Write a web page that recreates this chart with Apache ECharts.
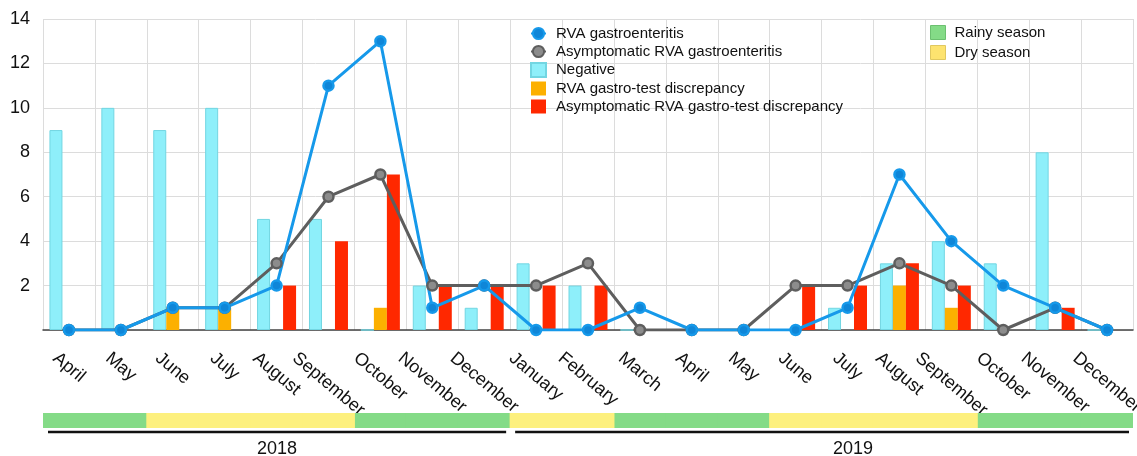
<!DOCTYPE html>
<html>
<head>
<meta charset="utf-8">
<script src="https://cdn.jsdelivr.net/npm/echarts@6/dist/echarts.min.js"></script>
<style>
  html, body { margin: 0; padding: 0; background: #fff; }
  #main { width: 1137px; height: 456px; }
</style>
</head>
<body>
<div id="main"></div>
<script>
// months: April 2018 .. December 2019
const months = ['April', 'May', 'June', 'July', 'August', 'September', 'October', 'November', 'December',
    'January', 'February', 'March', 'April', 'May', 'June', 'July', 'August', 'September', 'October', 'November', 'December'];

const rvaGastro = [0, 0, 1, 1, 2, 11, 13, 1, 2, 0, 0, 1, 0, 0, 0, 1, 7, 4, 2, 1, 0];
const asymGastro = [0, 0, 1, 1, 3, 6, 7, 2, 2, 2, 3, 0, 0, 0, 2, 2, 3, 2, 0, 1, 0];
const negative = [9, 10, 9, 10, 5, 5, 0, 2, 1, 3, 2, 0, 0, 0, 0, 1, 3, 4, 3, 8, 0];
const rvaDiscrepancy = [0, 0, 1, 1, 0, 0, 1, 0, 0, 0, 0, 0, 0, 0, 0, 0, 2, 1, 0, 0, 0];
const asymDiscrepancy = [0, 0, 0, 0, 2, 4, 7, 2, 2, 2, 2, 0, 0, 0, 2, 2, 3, 2, 0, 1, 0];

const seasons = ['rainy', 'rainy', 'dry', 'dry', 'dry', 'dry', 'rainy', 'rainy', 'rainy',
    'dry', 'dry', 'rainy', 'rainy', 'rainy', 'dry', 'dry', 'dry', 'dry', 'rainy', 'rainy', 'rainy'];

const years = ['2018', '2019'];
const yearFirst = [0, 9];
const yearLast = [8, 20];

const yMax = 14;
const yStep = 2;

const font = 'Liberation Sans';
const colors = {
    blue: '#1699ea',
    gray: '#5e5e5e',
    cyan: '#8eeffa',
    orange: '#fcb000',
    red: '#ff2800',
    rainy: '#84db87',
    dry: '#fdf07e'
};
// the 2019 caption sits a bit right of its bracket centre in the original
const yearTextShift = [0, 31];

// month labels: rotated, centred on the band, but with their tops lined up.
// shift each label down by half of its extra height, done through rich padding.
const labelSize = 18;
const labelAngle = 40;
const labelMargin = 20;
const labelTopGap = 19; // top of rotated box below the axis line
const measure = document.createElement('canvas').getContext('2d');
measure.font = labelSize + 'px "' + font + '"';
const rad = labelAngle * Math.PI / 180;
const labelRich = {};
months.forEach((m, i) => {
    const w = measure.measureText(m).width;
    const d = labelTopGap + (w * Math.sin(rad) + labelSize * Math.cos(rad)) / 2 - labelMargin;
    labelRich['m' + i] = {
        fontSize: labelSize,
        color: '#111',
        padding: [2 * d * Math.cos(rad), 0, 0, 2 * d * Math.sin(rad)]
    };
});

const chart = echarts.init(document.getElementById('main'));

const option = {
    animation: false,
    textStyle: { fontFamily: font, color: '#111' },
    grid: [
        { left: 43, right: 4, top: 19, height: 311, outerBoundsMode: 'none' },
        { left: 43, right: 4, top: 413, height: 15, outerBoundsMode: 'none' }
    ],
    legend: [
        {
            orient: 'vertical',
            left: 525,
            top: 21,
            itemWidth: 15,
            itemHeight: 14,
            itemGap: 3,
            textStyle: { fontSize: 15, color: '#111', padding: [0, 0, 0, 5] },
            data: [
                { name: 'RVA gastroenteritis' },
                { name: 'Asymptomatic RVA gastroenteritis' },
                { name: 'Negative', icon: 'rect' },
                { name: 'RVA gastro-test discrepancy', icon: 'rect' },
                { name: 'Asymptomatic RVA gastro-test discrepancy', icon: 'rect' }
            ]
        },
        {
            orient: 'vertical',
            left: 925,
            top: 20,
            itemWidth: 15,
            itemHeight: 14,
            itemGap: 5,
            textStyle: { fontSize: 15, color: '#111', padding: [0, 0, 0, 4] },
            data: [
                { name: 'Rainy season', icon: 'rect', itemStyle: { borderColor: '#6cc070', borderWidth: 1 } },
                { name: 'Dry season', icon: 'rect', itemStyle: { color: '#fde36f', borderColor: '#e0c860', borderWidth: 1 } }
            ]
        }
    ],
    xAxis: [
        {
            type: 'category',
            gridIndex: 0,
            data: months,
            axisLine: { lineStyle: { color: '#444', width: 1.5 } },
            axisTick: { length: 4, lineStyle: { color: '#444' } },
            splitLine: { show: true, lineStyle: { color: '#dcdcdc' } },
            axisLabel: {
                interval: 0,
                hideOverlap: false,
                rotate: -labelAngle,
                align: 'center',
                verticalAlign: 'middle',
                margin: labelMargin,
                fontSize: labelSize,
                color: '#111',
                formatter: (v, i) => '{m' + i + '|' + v + '}',
                rich: labelRich
            }
        },
        {
            type: 'category',
            gridIndex: 1,
            data: months,
            show: false
        }
    ],
    yAxis: [
        {
            type: 'value',
            gridIndex: 0,
            min: 0,
            max: yMax,
            interval: yStep,
            axisLine: { show: false },
            axisTick: { show: false },
            splitLine: { lineStyle: { color: '#dcdcdc' } },
            axisLabel: {
                fontSize: 18,
                color: '#111',
                margin: 13,
                formatter: v => (v === 0 ? '' : v)
            }
        },
        { type: 'value', gridIndex: 1, min: 0, max: 1, show: false }
    ],
    series: [
        {
            name: 'Negative',
            type: 'bar',
            barWidth: 13,
            barGap: '0%',
            itemStyle: { color: colors.cyan, borderColor: '#72d6e2', borderWidth: 1 },
            data: negative
        },
        {
            name: 'RVA gastro-test discrepancy',
            type: 'bar',
            barWidth: 13,
            barGap: '0%',
            itemStyle: { color: colors.orange },
            data: rvaDiscrepancy
        },
        {
            name: 'Asymptomatic RVA gastro-test discrepancy',
            type: 'bar',
            barWidth: 13,
            barGap: '0%',
            itemStyle: { color: colors.red },
            data: asymDiscrepancy
        },
        {
            name: 'Asymptomatic RVA gastroenteritis',
            type: 'line',
            symbol: 'circle',
            symbolSize: 10,
            showAllSymbol: true,
            lineStyle: { color: colors.gray, width: 3 },
            itemStyle: { color: '#8c8c8c', borderColor: colors.gray, borderWidth: 2.5 },
            data: asymGastro
        },
        {
            name: 'RVA gastroenteritis',
            type: 'line',
            symbol: 'circle',
            symbolSize: 10,
            showAllSymbol: true,
            lineStyle: { color: colors.blue, width: 3 },
            itemStyle: { color: '#0f86d8', borderColor: colors.blue, borderWidth: 2.5 },
            data: rvaGastro
        },
        {
            name: 'Rainy season',
            type: 'bar',
            xAxisIndex: 1,
            yAxisIndex: 1,
            stack: 'season',
            barWidth: '102%',
            itemStyle: { color: colors.rainy },
            data: seasons.map(s => (s === 'rainy' ? 1 : '-'))
        },
        {
            name: 'Dry season',
            type: 'bar',
            xAxisIndex: 1,
            yAxisIndex: 1,
            stack: 'season',
            barWidth: '102%',
            itemStyle: { color: colors.dry },
            data: seasons.map(s => (s === 'dry' ? 1 : '-'))
        },
        {
            name: 'years',
            type: 'custom',
            xAxisIndex: 1,
            yAxisIndex: 1,
            encode: { x: 0, y: 1 },
            data: years.map((y, i) => [yearFirst[i], 0, yearLast[i]]),
            renderItem: (params, api) => {
                const a = api.coord([api.value(0), 0]);
                const b = api.coord([api.value(2), 0]);
                const half = api.size([1, 0])[0] / 2;
                const x0 = a[0] - half + 5;
                const x1 = b[0] + half - 4;
                const y = a[1] + 4;
                return {
                    type: 'group',
                    children: [
                        {
                            type: 'line',
                            shape: { x1: x0, y1: y, x2: x1, y2: y },
                            style: { stroke: '#111', lineWidth: 2.5 }
                        },
                        {
                            type: 'text',
                            x: (x0 + x1) / 2 + yearTextShift[params.dataIndex],
                            y: y + 17,
                            style: {
                                text: years[params.dataIndex],
                                align: 'center',
                                verticalAlign: 'middle',
                                fontSize: 18,
                                fontFamily: font,
                                fill: '#111'
                            }
                        }
                    ]
                };
            }
        }
    ]
};

chart.setOption(option);
</script>
</body>
</html>
